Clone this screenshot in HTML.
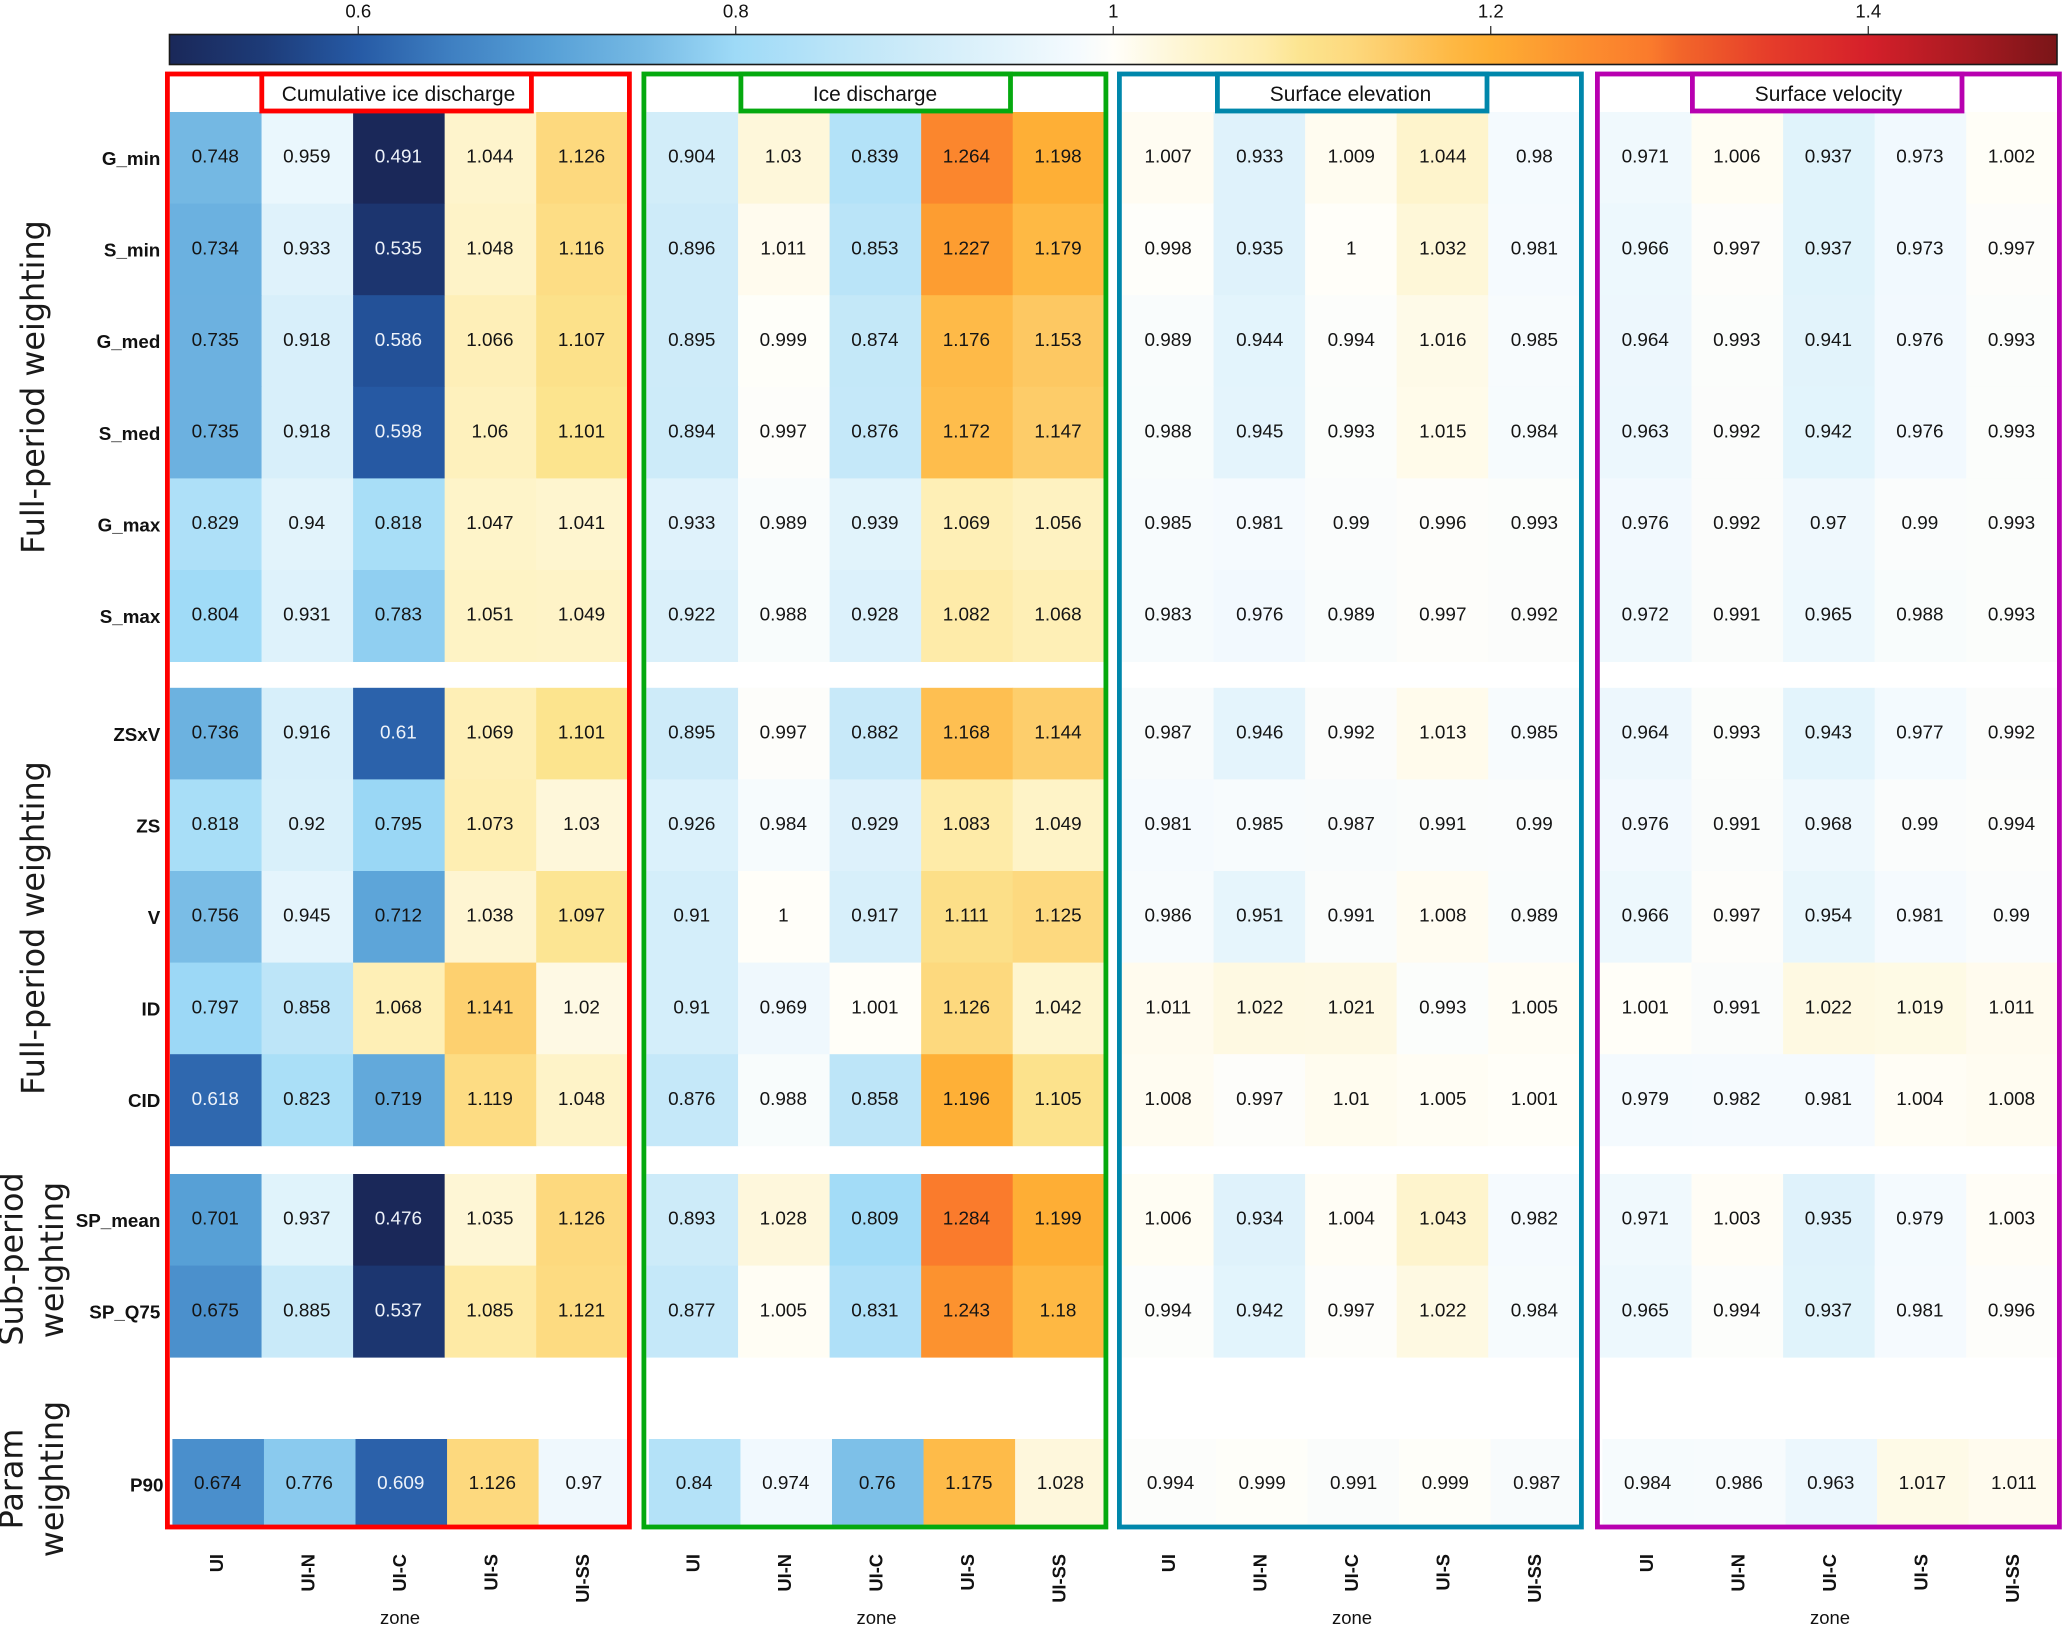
<!DOCTYPE html>
<html lang="en">
<head>
<meta charset="utf-8">
<title>Heatmap panels of weighting experiments by zone</title>
<style>
html,body{margin:0;padding:0;background:#fff;width:2067px;height:1626px;overflow:hidden}
svg{display:block;font-family:"Liberation Sans",sans-serif}
.ygroup{font-family:"DejaVu Sans",sans-serif;font-size:31.8px;fill:#1a1a1a;text-anchor:middle}
</style>
</head>
<body>
<svg id="chart" xmlns="http://www.w3.org/2000/svg" width="2067" height="1626" viewBox="0 0 2067 1626">
  <defs>
    <linearGradient id="cbarGrad" x1="0" x2="1" y1="0" y2="0"></linearGradient>
  </defs>
  <rect x="0" y="0" width="2067" height="1626" fill="#fff"/>
  <g id="colorbar"></g>
  <g id="panels"></g>
  <g id="rowLabels"></g>
  <text class="ygroup" transform="translate(44,387) rotate(-90)">Full-period weighting</text>
  <text class="ygroup" transform="translate(44,928) rotate(-90)">Full-period weighting</text>
  <text class="ygroup" transform="translate(22.5,1259) rotate(-90)">Sub-period</text>
  <text class="ygroup" transform="translate(63,1260) rotate(-90)">weighting</text>
  <text class="ygroup" transform="translate(22.5,1479) rotate(-90)">Param</text>
  <text class="ygroup" transform="translate(63,1479) rotate(-90)">weighting</text>
</svg>
<script>
// ---- data ----
const zones = ['UI', 'UI-N', 'UI-C', 'UI-S', 'UI-SS'];
const rowNames = ['G_min', 'S_min', 'G_med', 'S_med', 'G_max', 'S_max', 'ZSxV', 'ZS', 'V', 'ID', 'CID', 'SP_mean', 'SP_Q75', 'P90'];
const colorbarTicks = [0.6, 0.8, 1, 1.2, 1.4];

const cumulativeIceDischarge = [
  [0.748, 0.959, 0.491, 1.044, 1.126],
  [0.734, 0.933, 0.535, 1.048, 1.116],
  [0.735, 0.918, 0.586, 1.066, 1.107],
  [0.735, 0.918, 0.598, 1.06, 1.101],
  [0.829, 0.94, 0.818, 1.047, 1.041],
  [0.804, 0.931, 0.783, 1.051, 1.049],
  [0.736, 0.916, 0.61, 1.069, 1.101],
  [0.818, 0.92, 0.795, 1.073, 1.03],
  [0.756, 0.945, 0.712, 1.038, 1.097],
  [0.797, 0.858, 1.068, 1.141, 1.02],
  [0.618, 0.823, 0.719, 1.119, 1.048],
  [0.701, 0.937, 0.476, 1.035, 1.126],
  [0.675, 0.885, 0.537, 1.085, 1.121],
  [0.674, 0.776, 0.609, 1.126, 0.97]
];
const iceDischarge = [
  [0.904, 1.03, 0.839, 1.264, 1.198],
  [0.896, 1.011, 0.853, 1.227, 1.179],
  [0.895, 0.999, 0.874, 1.176, 1.153],
  [0.894, 0.997, 0.876, 1.172, 1.147],
  [0.933, 0.989, 0.939, 1.069, 1.056],
  [0.922, 0.988, 0.928, 1.082, 1.068],
  [0.895, 0.997, 0.882, 1.168, 1.144],
  [0.926, 0.984, 0.929, 1.083, 1.049],
  [0.91, 1, 0.917, 1.111, 1.125],
  [0.91, 0.969, 1.001, 1.126, 1.042],
  [0.876, 0.988, 0.858, 1.196, 1.105],
  [0.893, 1.028, 0.809, 1.284, 1.199],
  [0.877, 1.005, 0.831, 1.243, 1.18],
  [0.84, 0.974, 0.76, 1.175, 1.028]
];
const surfaceElevation = [
  [1.007, 0.933, 1.009, 1.044, 0.98],
  [0.998, 0.935, 1, 1.032, 0.981],
  [0.989, 0.944, 0.994, 1.016, 0.985],
  [0.988, 0.945, 0.993, 1.015, 0.984],
  [0.985, 0.981, 0.99, 0.996, 0.993],
  [0.983, 0.976, 0.989, 0.997, 0.992],
  [0.987, 0.946, 0.992, 1.013, 0.985],
  [0.981, 0.985, 0.987, 0.991, 0.99],
  [0.986, 0.951, 0.991, 1.008, 0.989],
  [1.011, 1.022, 1.021, 0.993, 1.005],
  [1.008, 0.997, 1.01, 1.005, 1.001],
  [1.006, 0.934, 1.004, 1.043, 0.982],
  [0.994, 0.942, 0.997, 1.022, 0.984],
  [0.994, 0.999, 0.991, 0.999, 0.987]
];
const surfaceVelocity = [
  [0.971, 1.006, 0.937, 0.973, 1.002],
  [0.966, 0.997, 0.937, 0.973, 0.997],
  [0.964, 0.993, 0.941, 0.976, 0.993],
  [0.963, 0.992, 0.942, 0.976, 0.993],
  [0.976, 0.992, 0.97, 0.99, 0.993],
  [0.972, 0.991, 0.965, 0.988, 0.993],
  [0.964, 0.993, 0.943, 0.977, 0.992],
  [0.976, 0.991, 0.968, 0.99, 0.994],
  [0.966, 0.997, 0.954, 0.981, 0.99],
  [1.001, 0.991, 1.022, 1.019, 1.011],
  [0.979, 0.982, 0.981, 1.004, 1.008],
  [0.971, 1.003, 0.935, 0.979, 1.003],
  [0.965, 0.994, 0.937, 0.981, 0.996],
  [0.984, 0.986, 0.963, 1.017, 1.011]
];

// ---- colour scale ----
const scaleValues = [0.5, 0.55, 0.6, 0.65, 0.7, 0.75, 0.8, 0.85, 0.9, 0.95, 0.98, 1, 1.03, 1.05, 1.08, 1.1, 1.126, 1.15, 1.18, 1.2, 1.25, 1.285, 1.3, 1.35, 1.4, 1.45, 1.5];
const scaleColors = ['#1a2859', '#1d3b78', '#265aa5', '#3f80c2', '#569fd6', '#75b9e4', '#9edaf7', '#b9e4f8', '#d0ecf9', '#e6f5fc', '#f4fafe', '#fffef9', '#fef7da', '#fef3c6', '#feecac', '#fce48f', '#fdd97e', '#fdca66', '#feb843', '#feae34', '#fc8e2e', '#fa7a2c', '#f2662a', '#e53b2a', '#d5202a', '#ab1a22', '#7a1518'];

function hexRgb(h) {
  return [parseInt(h.slice(1, 3), 16), parseInt(h.slice(3, 5), 16), parseInt(h.slice(5, 7), 16)];
}
function colorOf(v) {
  const c = Math.max(scaleValues[0], Math.min(scaleValues[scaleValues.length - 1], v));
  let i = 0;
  while (i < scaleValues.length - 2 && c > scaleValues[i + 1]) i++;
  const t = (c - scaleValues[i]) / (scaleValues[i + 1] - scaleValues[i]);
  const a = hexRgb(scaleColors[i]);
  const b = hexRgb(scaleColors[i + 1]);
  return 'rgb(' + a.map(function (x, k) { return Math.round(x + (b[k] - x) * t); }).join(',') + ')';
}

// ---- layout ----
const NS = 'http://www.w3.org/2000/svg';
const CELL_W = 91.55;
const ROW_H = 91.6;
function make(tag, attrs, parent, txt) {
  const e = document.createElementNS(NS, tag);
  Object.keys(attrs).forEach(function (k) { e.setAttribute(k, attrs[k]); });
  if (txt !== undefined) e.textContent = txt;
  parent.appendChild(e);
  return e;
}
function rowTop(r) {
  if (r < 6) return 112 + r * ROW_H;
  if (r < 11) return 687.8 + (r - 6) * ROW_H;
  if (r < 13) return 1174 + (r - 11) * ROW_H;
  return 1439;
}
function rowHeight(r) { return r === 13 ? 88 : ROW_H; }
function slug(s) { return s.toLowerCase().replace(/[^a-z0-9]+/g, '-'); }

// ---- colorbar ----
const cbarX0 = 169.5;
const cbarX1 = 2057;
const cbarDomain = [0.5, 1.5];
function cbarX(v) { return cbarX0 + (v - cbarDomain[0]) / (cbarDomain[1] - cbarDomain[0]) * (cbarX1 - cbarX0); }

const grad = document.getElementById('cbarGrad');
scaleValues.forEach(function (v, i) {
  make('stop', { offset: (v - 0.5) * 100 + '%', 'stop-color': scaleColors[i] }, grad);
});
const cbar = document.getElementById('colorbar');
const cbarRect = make('rect', { x: cbarX0, y: 34.5, width: cbarX1 - cbarX0, height: 30, fill: 'url(#cbarGrad)', stroke: '#1a1a1a', 'stroke-width': 1.6 }, cbar);


colorbarTicks.forEach(function (t) {
  const tick = make('line', { x1: cbarX(t), x2: cbarX(t), y1: 26, y2: 34.5, stroke: '#222', 'stroke-width': 1.2 }, cbar);
  
  
  const lab = make('text', { x: cbarX(t), y: 17.5, 'font-size': 18.6, 'text-anchor': 'middle', fill: '#111' }, cbar, String(t));
  
  
});

// ---- panels ----
const panelTitles = ['Cumulative ice discharge', 'Ice discharge', 'Surface elevation', 'Surface velocity'];
const panelValues = [cumulativeIceDischarge, iceDischarge, surfaceElevation, surfaceVelocity];
const panelLefts = [165, 641.5, 1117, 1595];
const panelColors = ['#ff0000', '#05a90f', '#0087ab', '#b800b0'];
const titleBoxOffsets = [94.4, 97, 98, 95];
const textNudges = [-0.5, -0.5, 0.4, -0.5];

const panelsRoot = document.getElementById('panels');
panelTitles.forEach(function (title, p) {
  const px = panelLefts[p];
  const g = make('g', {}, panelsRoot);
  
  
  const x0 = px + 5;
  panelValues[p].forEach(function (row, r) {
    const shift = r === 13 ? 2.4 : 0;
    row.forEach(function (v, c) {
      const x = x0 + shift + c * CELL_W;
      const w = (c === 4 && shift) ? CELL_W - shift : CELL_W;
      const y = rowTop(r);
      const h = rowHeight(r);
      const cell = make('rect', { x: x, y: y, width: w + 0.4, height: h + 0.4, fill: colorOf(v) }, g);
      
      
    });
    row.forEach(function (v, c) {
      const cx = x0 + shift + (c + 0.5) * CELL_W + textNudges[p];
      const base = rowTop(r) + (r === 13 ? 49.8 : 50.7);
      const label = make('text', { x: cx, y: base, 'font-size': 18.9, 'text-anchor': 'middle', fill: v < 0.625 ? '#eef3fa' : '#141414' }, g, String(v));
      
      
    });
  });
  const frame = make('rect', { x: px + 2.4, y: 74, width: 462, height: 1453, fill: 'none', stroke: panelColors[p], 'stroke-width': 4.8 }, g);
  
  
  const box = make('rect', { x: px + titleBoxOffsets[p] + 2.4, y: 74, width: 269.6, height: 37, fill: '#fff', stroke: panelColors[p], 'stroke-width': 4.8 }, g);
  
  
  const tt = make('text', { x: px + 233.5, y: 101, 'font-size': 20.9, 'text-anchor': 'middle', fill: '#111' }, g, title);
  
  
  zones.forEach(function (z, c) {
    const cx = x0 + (c + 0.5) * CELL_W;
    const xl = make('text', { transform: 'translate(' + (cx + 7.2) + ',1554) rotate(-90)', 'font-size': 18.3, 'font-weight': 'bold', 'text-anchor': 'end', fill: '#111' }, g, z);
    
    
  });
  const zoneTitle = make('text', { x: px + 235, y: 1624, 'font-size': 18.5, 'text-anchor': 'middle', fill: '#111' }, g, 'zone');
  
  
});

// ---- row labels ----
const rowLabelRoot = document.getElementById('rowLabels');
rowNames.forEach(function (name, r) {
  const isLast = r === 13;
  const rl = make('text', { x: isLast ? 163.4 : 160.3, y: rowTop(r) + (isLast ? 52.5 : 53), 'font-size': 18.8, 'font-weight': 'bold', 'text-anchor': 'end', fill: '#111' }, rowLabelRoot, name);
  
  
});
</script>
</body>
</html>
